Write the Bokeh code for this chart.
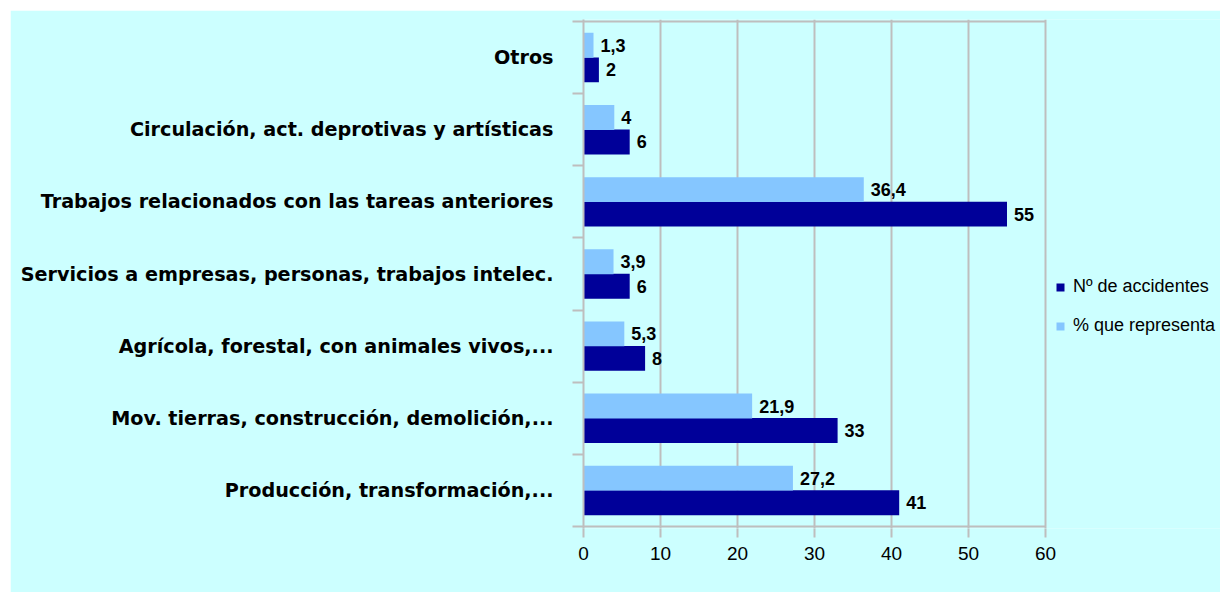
from bokeh.plotting import figure
from bokeh.models import ColumnDataSource, FixedTicker, Legend, LegendItem, Range1d
from bokeh.core.properties import value
from bokeh.embed import file_html
from bokeh.resources import INLINE

# Categories listed bottom to top
categories = [
    "Producción, transformación,...",
    "Mov. tierras, construcción, demolición,...",
    "Agrícola, forestal, con animales vivos,...",
    "Servicios a empresas, personas, trabajos intelec.",
    "Trabajos relacionados con las tareas anteriores",
    "Circulación, act. deprotivas y artísticas",
    "Otros",
]
n_accidentes = [41, 33, 8, 6, 55, 6, 2]
pct_representa = [27.2, 21.9, 5.3, 3.9, 36.4, 4, 1.3]
x_ticks = [0, 10, 20, 30, 40, 50, 60]

series_names = ["Nº de accidentes", "% que representa"]

BG = "#CCFFFF"
DARK = "#000099"
LIGHT = "#85C6FF"
GRAY = "#BEBEBE"


def fmt(v):
    s = ("%g" % v)
    return s.replace(".", ",")


ncat = len(categories)
centers = [i + 0.5 for i in range(ncat)]
off = 0.17
bh = 0.345

# frame geometry (pixels) -> ranges that leave room for the legend
frame_px_w = 1210 - 573           # frame spans to the right edge
axis_px_w = 462                   # width used by 0..60
x_end = x_ticks[-1] * frame_px_w / axis_px_w
pad = 2 / 72.0

src_n = ColumnDataSource(dict(
    y=[c - off for c in centers], v=n_accidentes,
    lab=[fmt(v) for v in n_accidentes]))
src_p = ColumnDataSource(dict(
    y=[c + off for c in centers], v=pct_representa,
    lab=[fmt(v) for v in pct_representa]))

p = figure(width=1210, height=582,
           x_range=Range1d(x_ticks[0], x_end),
           y_range=Range1d(-pad, ncat + pad),
           output_backend="svg", toolbar_location=None,
           min_border_left=573, min_border_right=0,
           min_border_top=9, min_border_bottom=64)
p.margin = (10, 0, 0, 10)

p.background_fill_color = BG
p.border_fill_color = BG
p.outline_line_color = None

# plot-area border: top and bottom lines (right one is the 60 gridline)
p.segment(x0=[x_ticks[0], x_ticks[0]], y0=[0, ncat],
          x1=[x_ticks[-1], x_ticks[-1]], y1=[0, ncat],
          line_color=GRAY, line_width=2)

r_n = p.hbar(y="y", right="v", left=0, height=bh, source=src_n,
             fill_color=DARK, line_color=None)
r_p = p.hbar(y="y", right="v", left=0, height=bh, source=src_p,
             fill_color=LIGHT, line_color=None)

for src in (src_n, src_p):
    p.text(x="v", y="y", text="lab", source=src, x_offset=7,
           text_align="left", text_baseline="middle",
           text_font=value("Liberation Sans"), text_font_style="bold",
           text_font_size="18px", text_color="black")

# x axis
p.xaxis.ticker = FixedTicker(ticks=x_ticks)
p.xgrid.ticker = FixedTicker(ticks=x_ticks)
p.xgrid.grid_line_color = GRAY
p.xgrid.grid_line_width = 2
p.ygrid.visible = False
xa = p.xaxis[0]
xa.axis_line_color = None
xa.major_tick_line_color = GRAY
xa.major_tick_line_width = 2
xa.major_tick_out = 9
xa.major_tick_in = 0
xa.minor_tick_line_color = None
xa.major_label_standoff = 9
xa.major_label_text_font = "Liberation Sans"
xa.major_label_text_font_size = "19px"
xa.major_label_text_color = "black"

# y axis: labels at band centers, ticks at band boundaries
ya = p.yaxis[0]
ya.ticker = FixedTicker(ticks=centers, minor_ticks=list(range(ncat + 1)))
ya.major_label_overrides = {c: lab for c, lab in zip(centers, categories)}
ya.axis_line_color = GRAY
ya.axis_line_width = 2
ya.major_tick_line_color = None
ya.major_tick_out = 0
ya.major_tick_in = 0
ya.minor_tick_line_color = GRAY
ya.minor_tick_line_width = 2
ya.minor_tick_out = 11
ya.minor_tick_in = 0
ya.major_label_standoff = 19
ya.major_label_text_font = "DejaVu Sans"
ya.major_label_text_font_style = "bold"
ya.major_label_text_font_size = "19.2px"
ya.major_label_text_color = "black"

legend = Legend(items=[LegendItem(label=series_names[0], renderers=[r_n]),
                       LegendItem(label=series_names[1], renderers=[r_p])],
                location=(472, 192))
legend.margin = 0
legend.padding = 0
legend.border_line_color = None
legend.background_fill_alpha = 0
legend.glyph_width = 10
legend.glyph_height = 10
legend.label_standoff = 8
legend.label_height = 20
legend.spacing = 18
legend.label_text_font = "Liberation Sans"
legend.label_text_font_size = "18px"
legend.label_text_color = "black"
p.add_layout(legend)

open("out.html", "w").write(file_html(p, INLINE))
